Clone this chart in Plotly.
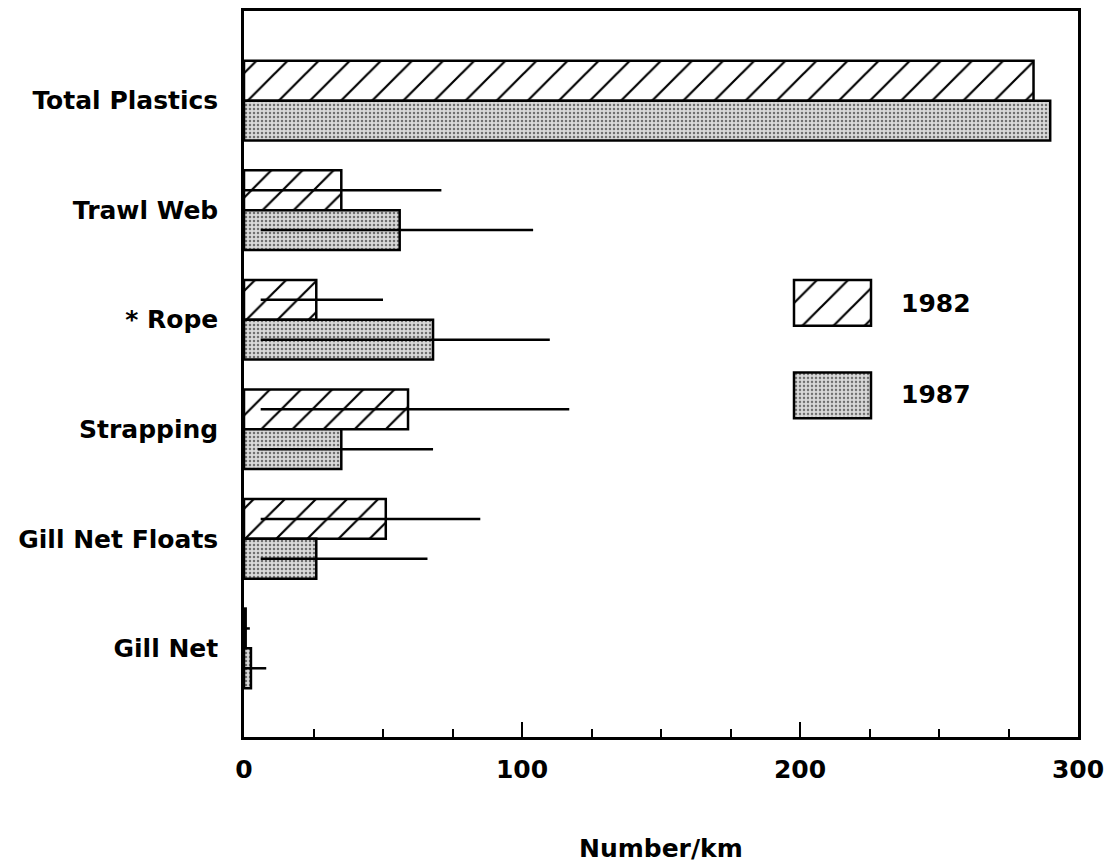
import plotly.graph_objects as go

categories = ["Total Plastics", "Trawl Web", "* Rope", "Strapping", "Gill Net Floats", "Gill Net"]
v1982 = [284, 35, 26, 59, 51, 0.6]
v1987 = [290, 56, 68, 35, 26, 2.5]
err_hi_1982 = [0, 36, 24, 58, 34, 1.5]
err_lo_1982 = [0, 35, 20, 53, 45, 0.6]
err_hi_1987 = [0, 48, 42, 33, 40, 5.5]
err_lo_1987 = [0, 50, 62, 30, 20, 2.5]
x_ticks = [0, 100, 200, 300]
legend_years = ["1982", "1987"]

FONT = "DejaVu Sans"
W, H = 1112, 867
L, R, T, B = 244, 1078, 8, 737

hatch = dict(shape="/", fgcolor="black", bgcolor="white", size=22, solidity=0.1, fillmode="replace")
stipple = dict(shape=".", fgcolor="#707070", bgcolor="#d9d9d9", size=4, solidity=0.3, fillmode="replace")

ypos = list(range(len(categories)))

fig = go.Figure()
fig.add_trace(go.Bar(
    y=ypos, x=v1982, orientation="h", name="1982",
    marker=dict(color="white", pattern=hatch, line=dict(color="black", width=2.5)),
    error_x=dict(type="data", symmetric=False, array=err_hi_1982, arrayminus=err_lo_1982,
                 color="black", thickness=2.5, width=0),
    showlegend=False,
))
fig.add_trace(go.Bar(
    y=ypos, x=v1987, orientation="h", name="1987",
    marker=dict(color="#d9d9d9", pattern=stipple, line=dict(color="black", width=2.5)),
    error_x=dict(type="data", symmetric=False, array=err_hi_1987, arrayminus=err_lo_1987,
                 color="black", thickness=2.5, width=0),
    showlegend=False,
))

# legend swatches (drawn as bars on an overlay axis)
fig.add_trace(go.Bar(
    y=[0], x=[1], orientation="h", xaxis="x2", yaxis="y2", width=0.495,
    marker=dict(color="white", pattern=hatch, line=dict(color="black", width=2.5)),
    showlegend=False, hoverinfo="skip",
))
fig.add_trace(go.Bar(
    y=[1], x=[1], orientation="h", xaxis="x2", yaxis="y2", width=0.495,
    marker=dict(color="#d9d9d9", pattern=stipple, line=dict(color="black", width=2.5)),
    showlegend=False, hoverinfo="skip",
))

def px_x(p):
    return (p - L) / (R - L)

def px_y(p):
    return (B - p) / (B - T)

# y range: group centres at 98 + 110*i px
c0, step = 98, 110
y_top = (T - c0) / step
y_bot = (B - c0) / step

fig.update_layout(
    width=W, height=H,
    margin=dict(l=L, r=W - R, t=T, b=H - B, pad=0),
    paper_bgcolor="white", plot_bgcolor="white",
    barmode="group", bargap=0.273, bargroupgap=0,
    font=dict(family=FONT, color="black"),
    xaxis=dict(
        range=[0, 300], tickvals=x_ticks, ticktext=[str(v) for v in x_ticks],
        ticks="inside", ticklen=15, tickwidth=2, tickcolor="black",
        minor=dict(dtick=25, ticks="inside", ticklen=8, tickwidth=2, tickcolor="black"),
        showline=True, linecolor="black", linewidth=2.5, mirror=True,
        showgrid=False, zeroline=False,
        tickfont=dict(family=FONT, size=25, weight="bold", color="black"),
        ticklabelstandoff=8,
    ),
    yaxis=dict(
        range=[y_bot, y_top], tickvals=ypos, ticktext=categories,
        ticks="", showline=True, linecolor="black", linewidth=2.5, mirror=True,
        showgrid=False, zeroline=False,
        tickfont=dict(family=FONT, size=25, weight="bold", color="black"),
        ticklabelstandoff=18,
    ),
    xaxis2=dict(
        domain=[px_x(790), px_x(875)], anchor="y2",
        range=[-4 / 77, 1 + 4 / 77], visible=False, fixedrange=True,
    ),
    yaxis2=dict(
        domain=[px_y(421), px_y(274)], anchor="x2",
        range=[1 + 27 / 93, -27 / 93], visible=False, fixedrange=True,
    ),
    annotations=[
        dict(text="Number/km", xref="paper", yref="paper", x=0.5, y=px_y(849),
             xanchor="center", yanchor="middle", showarrow=False,
             font=dict(family=FONT, size=25, weight="bold", color="black")),
        dict(text=legend_years[0], xref="paper", yref="paper", x=px_x(899), y=px_y(302),
             xanchor="left", yanchor="middle", showarrow=False,
             font=dict(family=FONT, size=25, weight="bold", color="black")),
        dict(text=legend_years[1], xref="paper", yref="paper", x=px_x(899), y=px_y(393),
             xanchor="left", yanchor="middle", showarrow=False,
             font=dict(family=FONT, size=25, weight="bold", color="black")),
    ],
)

fig.write_html("out.html")
